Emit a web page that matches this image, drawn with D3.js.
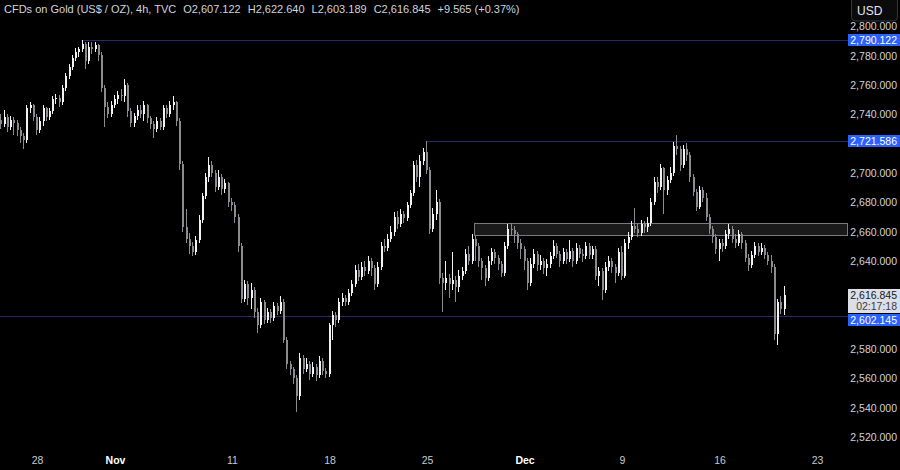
<!DOCTYPE html>
<html><head><meta charset="utf-8">
<script src="https://cdn.jsdelivr.net/npm/d3@7/dist/d3.min.js"></script>
<style>
html,body{margin:0;padding:0;background:#000;}
svg{display:block;font-family:"Liberation Sans",Arial,sans-serif;}
</style></head><body>
<svg id="c" width="900" height="470"></svg>
<script>
// ---------- DATA (4h candles, open of each candle = previous close) ----------
const firstOpen = 2736;
const closes = [
2733,2738,2731,2736,2734,2729,2725,2722,2744,2746,
2738,2729,2735,2744,2738,2742,2750,2751,2748,2758,
2766,2772,2778,2782,2784,2788,2776,2786,2784,2787,
2780,2758,2745,2740,2746,2750,2753,2752,2760,2742,
2734,2739,2743,2740,2746,2737,2733,2730,2735,2731,
2744,2740,2746,2748,2735,2706,2663,2655,2650,2646,
2654,2668,2684,2697,2705,2700,2690,2697,2689,2693,
2680,2678,2670,2650,2614,2624,2615,2620,2605,2596,
2612,2600,2605,2601,2609,2606,2612,2586,2570,2566,
2560,2548,2574,2566,2570,2563,2568,2562,2572,2565,
2563,2596,2603,2600,2612,2615,2612,2618,2624,2634,
2629,2636,2633,2640,2635,2624,2636,2650,2649,2655,
2660,2670,2665,2672,2669,2678,2686,2705,2697,2708,
2714,2702,2662,2672,2680,2628,2625,2628,2624,2627,
2622,2630,2633,2645,2640,2655,2650,2640,2635,2628,
2640,2646,2642,2638,2632,2650,2662,2661,2658,2652,
2648,2640,2625,2638,2645,2637,2640,2635,2638,2643,
2650,2645,2640,2646,2641,2647,2640,2649,2645,2643,
2650,2644,2648,2630,2633,2620,2636,2640,2636,2632,
2646,2630,2652,2656,2664,2662,2659,2665,2663,2666,
2680,2694,2690,2703,2688,2695,2700,2718,2716,2705,
2716,2712,2697,2687,2677,2688,2683,2670,2662,2656,
2648,2652,2650,2658,2662,2655,2652,2658,2652,2642,
2637,2644,2650,2646,2649,2644,2640,2636,2590,2612,
2607.122,2616.845
];
const highs = [
2740,2743,2740,2739,2738,2736,2731,2727,2746,2748,
2747,2740,2738,2746,2745,2744,2752,2754,2753,2760,
2768,2774,2780,2785,2786,2790.122,2789,2789,2789,2789,
2788,2782,2760,2748,2749,2753,2756,2757,2764,2761,
2744,2741,2746,2746,2749,2747,2739,2735,2738,2737,
2746,2746,2749,2752,2749,2737,2708,2675,2659,2653,
2657,2671,2686,2700,2711,2708,2702,2702,2699,2696,
2694,2683,2680,2672,2652,2627,2626,2625,2622,2608,
2615,2613,2608,2607,2612,2611,2616,2614,2588,2572,
2568,2562,2577,2576,2574,2572,2571,2570,2575,2574,
2567,2598,2606,2605,2615,2618,2617,2621,2627,2637,
2638,2639,2640,2643,2642,2637,2639,2653,2655,2658,
2664,2673,2674,2675,2674,2680,2688,2708,2709,2712,
2717,2721.586,2704,2676,2688,2682,2632,2640,2631,2646,
2630,2634,2636,2648,2650,2658,2657,2652,2642,2637,
2643,2649,2648,2644,2640,2653,2665,2666,2664,2660,
2655,2650,2642,2642,2648,2647,2644,2642,2641,2646,
2654,2652,2647,2649,2648,2654,2649,2652,2651,2648,
2653,2652,2650,2650,2636,2635,2639,2643,2642,2638,
2649,2650,2655,2660,2667,2676,2665,2668,2667,2670,
2683,2697,2697,2706,2704,2698,2704,2721,2726,2718,
2719,2720,2714,2699,2689,2691,2690,2686,2672,2664,
2658,2655,2655,2661,2665,2664,2658,2661,2660,2654,
2645,2647,2653,2652,2652,2651,2646,2644,2638,2614,
2616,2622.64
];
const lows = [
2730,2731,2728,2729,2726,2725,2720,2716,2720,2741,
2735,2726,2727,2732,2735,2736,2740,2747,2745,2746,
2756,2764,2770,2776,2779,2782,2771,2774,2781,2782,
2776,2755,2731,2737,2738,2744,2747,2749,2748,2738,
2731,2731,2736,2737,2735,2734,2730,2724,2728,2729,
2729,2737,2738,2743,2732,2702,2660,2652,2645,2643,
2644,2652,2666,2682,2694,2697,2687,2688,2685,2686,
2677,2674,2666,2646,2611,2612,2610,2607,2601,2591,
2594,2597,2598,2598,2599,2603,2604,2584,2566,2562,
2556,2537,2545,2563,2564,2559,2561,2558,2560,2562,
2560,2561,2586,2595,2598,2609,2609,2610,2616,2622,
2626,2627,2630,2631,2630,2620,2622,2634,2646,2647,
2653,2657,2662,2663,2666,2667,2676,2684,2694,2690,
2705,2699,2658,2660,2668,2624,2605,2620,2615,2620,
2612,2619,2627,2631,2637,2638,2640,2636,2627,2623,
2626,2637,2638,2634,2629,2630,2648,2657,2652,2648,
2641,2634,2620,2623,2635,2633,2634,2631,2630,2635,
2641,2642,2636,2638,2638,2639,2636,2638,2642,2639,
2641,2641,2641,2627,2623,2613,2618,2633,2632,2625,
2630,2627,2628,2648,2654,2659,2656,2657,2659,2660,
2664,2678,2686,2688,2672,2685,2693,2698,2712,2701,
2703,2708,2694,2684,2674,2675,2680,2667,2658,2652,
2645,2640,2646,2648,2655,2652,2649,2650,2648,2639,
2633,2635,2642,2643,2644,2641,2637,2632,2586,2583,
2604,2603.189
];
const priceTicks = [2520,2540,2560,2580,2600,2620,2640,2660,2680,2700,2720,2740,2760,2780,2800];
const dateTickIndex = [11,35,71,101,131,161,191,221,251];
const dateTickLabels = ["28","Nov","11","18","25","Dec","9","16","23"];
const monthLabels = ["Nov","Dec"];
const levelPrices = [2790.122, 2721.586, 2602.145];
const levelStartIndex = [25, 131, null];
const zonePrices = [2657.5, 2666];
const zoneStartIndex = 145.5;
const lastPrice = 2616.845;
const countdown = "02:17:18";
const currency = "USD";
const headerParts = ["CFDs on Gold (US$ / OZ), 4h, TVC","O2,607.122","H2,622.640","L2,603.189","C2,616.845","+9.565 (+0.37%)"];

// ---------- build ----------
const opens = [firstOpen].concat(closes.slice(0, -1));
const candles = closes.map((c, i) => ({i, o: opens[i], h: highs[i], l: lows[i], c}));

const W = 900, H = 470, plotRight = 848, plotBottom = 450;
const svg = d3.select("#c");
svg.append("rect").attr("width", W).attr("height", H).attr("fill", "#000");

const x = d3.scaleLinear().domain([0, 251]).range([1.25, 817]);
const y = d3.scaleLinear().domain([2520, 2800]).range([437, 26]);

svg.append("defs").append("clipPath").attr("id", "plot")
  .append("rect").attr("x", 0).attr("y", 0).attr("width", plotRight).attr("height", plotBottom);
const plot = svg.append("g").attr("clip-path", "url(#plot)");

// zone
plot.append("rect")
  .attr("x", Math.round(x(zoneStartIndex)) + 0.5)
  .attr("y", Math.round(y(zonePrices[1])) + 0.5)
  .attr("width", plotRight - Math.round(x(zoneStartIndex)) - 1)
  .attr("height", Math.round(y(zonePrices[0])) - Math.round(y(zonePrices[1])))
  .attr("fill", "#1a1a1b").attr("stroke", "#7a7a7e").attr("stroke-width", 1);

// level lines
const lineColor = "#252a6c";
levelPrices.forEach((p, k) => {
  const x0 = levelStartIndex[k] == null ? 0 : x(levelStartIndex[k]) - 1;
  const yy = Math.round(y(p)) + 0.5;
  plot.append("line").attr("x1", x0).attr("x2", plotRight).attr("y1", yy).attr("y2", yy)
    .attr("stroke", lineColor).attr("stroke-width", 1.2);
});

// candles
const upCol = "#f2f2f2", downCol = "#8c8c90";
const cg = plot.append("g").attr("shape-rendering", "crispEdges");
cg.selectAll("rect.wick").data(candles).join("rect").attr("class", "wick")
  .attr("x", d => Math.round(x(d.i)) - 1)
  .attr("y", d => y(d.h))
  .attr("width", 1)
  .attr("height", d => Math.max(1, y(d.l) - y(d.h)))
  .attr("fill", d => d.c >= d.o ? upCol : downCol);
cg.selectAll("rect.body").data(candles).join("rect").attr("class", "body")
  .attr("x", d => Math.round(x(d.i)) - 1)
  .attr("y", d => y(Math.max(d.o, d.c)))
  .attr("width", 2)
  .attr("height", d => Math.max(1, Math.abs(y(d.o) - y(d.c))))
  .attr("fill", d => d.c >= d.o ? upCol : downCol);

// label boxes on the price scale (computed first so that covered ticks are hidden)
const fmt = d3.format(",.3f");
const yLast = y(lastPrice);
const lastTop = Math.round(yLast) - 6;
const boxes = [{top: lastTop, bottom: lastTop + 24}];
const levelTops = levelPrices.map(p => {
  let top = Math.round(y(p)) - 6;
  if (top < lastTop + 24 && top + 12 > lastTop) top = lastTop + 25;
  boxes.push({top, bottom: top + 12});
  return top;
});
const covered = v => boxes.some(b => y(v) + 5 > b.top - 3 && y(v) - 5 < b.bottom);

// y axis (right)
const yAxis = svg.append("g").attr("transform", `translate(${plotRight},0)`)
  .call(d3.axisRight(y).tickValues(priceTicks.filter(v => !covered(v))).tickFormat(fmt).tickSize(0));
yAxis.select(".domain").remove();
yAxis.selectAll("text").attr("x", 49).attr("dy", "0.35em").attr("text-anchor", "end")
  .attr("fill", "#d1d4dc").style("font-size", "10.5px").style("font-family", '"Liberation Sans",Arial,sans-serif');

// x axis (bottom)
const xAxis = svg.append("g").attr("transform", `translate(0,${plotBottom})`)
  .call(d3.axisBottom(x).tickValues(dateTickIndex).tickFormat((d, k) => dateTickLabels[k]).tickSize(0));
xAxis.select(".domain").remove();
xAxis.selectAll("text").attr("y", 14).attr("dy", "0")
  .attr("fill", (d, k) => monthLabels.includes(dateTickLabels[k]) ? "#ffffff" : "#c8cbd3")
  .style("font-weight", (d, k) => monthLabels.includes(dateTickLabels[k]) ? "bold" : "normal")
  .style("font-size", "10.5px").style("font-family", '"Liberation Sans",Arial,sans-serif');

// current price label
const lastBox = svg.append("g");
lastBox.append("rect").attr("x", plotRight).attr("y", lastTop).attr("width", W - plotRight).attr("height", 24)
  .attr("fill", "#dcdfe6");
lastBox.append("text").attr("x", 897).attr("y", lastTop + 10).attr("text-anchor", "end")
  .attr("fill", "#131722").style("font-size", "10.5px").text(fmt(lastPrice));
lastBox.append("text").attr("x", 897).attr("y", lastTop + 21).attr("text-anchor", "end")
  .attr("fill", "#3a3d45").style("font-size", "10.5px").text(countdown);

// level labels
levelPrices.forEach((p, k) => {
  const top = levelTops[k];
  const g = svg.append("g");
  g.append("rect").attr("x", plotRight).attr("y", top).attr("width", W - plotRight).attr("height", 12)
    .attr("fill", "#2962ff");
  g.append("text").attr("x", 897).attr("y", top + 10).attr("text-anchor", "end")
    .attr("fill", "#ffffff").style("font-size", "10.5px").text(fmt(p));
});

// currency box
svg.append("rect").attr("x", 851.5).attr("y", -4).attr("width", 46).attr("height", 25).attr("rx", 4)
  .attr("fill", "#0b0b0c").attr("stroke", "#34373f");
svg.append("text").attr("x", 857).attr("y", 15).attr("fill", "#e6e8ee").style("font-size", "12px").text(currency);

// header
const header = svg.append("text").attr("x", 4).attr("y", 13).attr("fill", "#d1d4dc").style("font-size", "11px");
headerParts.forEach((t, k) => {
  header.append("tspan").attr("dx", k === 0 ? 0 : 7).text(t);
});
</script>
</body></html>
